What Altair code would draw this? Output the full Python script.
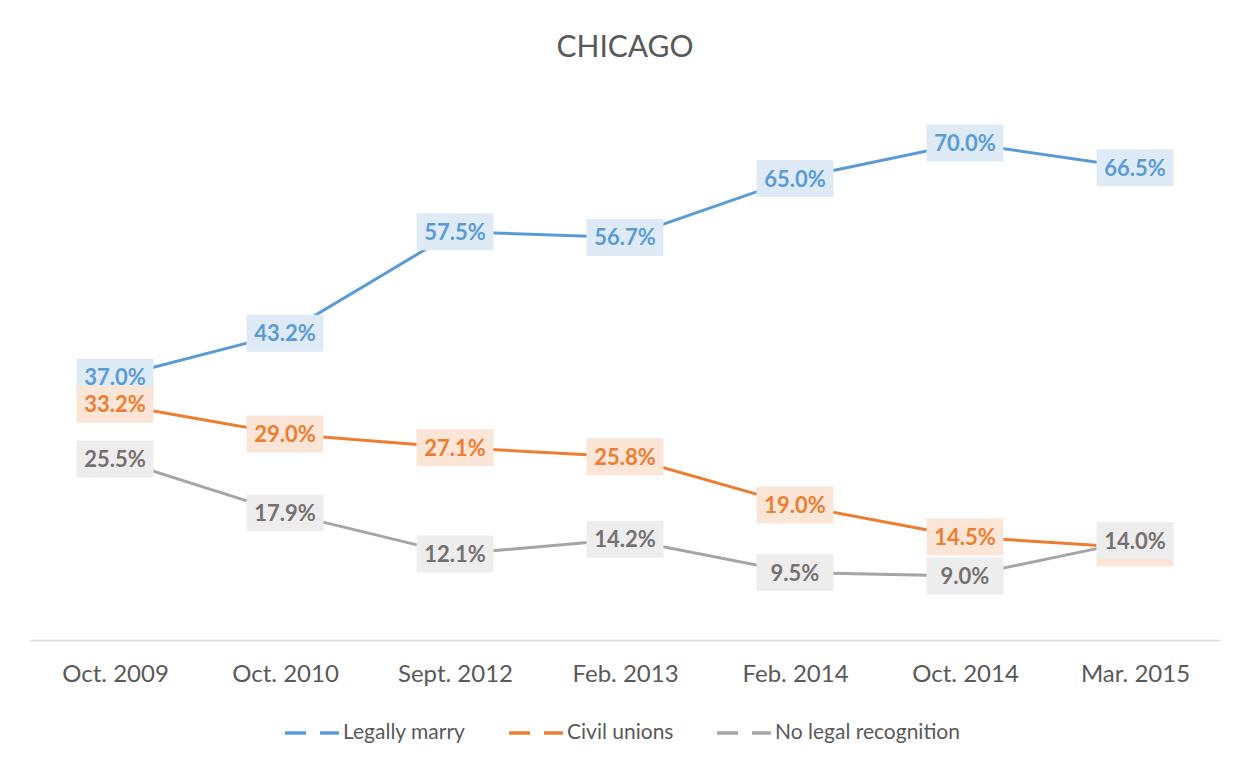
import altair as alt
import pandas as pd

periods = ["Oct. 2009", "Oct. 2010", "Sept. 2012", "Feb. 2013", "Feb. 2014", "Oct. 2014", "Mar. 2015"]
series = ["Legally marry", "Civil unions", "No legal recognition"]
legally_marry = [37.0, 43.2, 57.5, 56.7, 65.0, 70.0, 66.5]
civil_unions = [33.2, 29.0, 27.1, 25.8, 19.0, 14.5, 13.0]
no_recognition = [25.5, 17.9, 12.1, 14.2, 9.5, 9.0, 14.0]

line_colors = ["#5B9BD5", "#ED7D31", "#A5A5A5"]
box_colors = ["#DEEBF7", "#FBE5D6", "#EDEDED"]
text_colors = ["#5B9BD5", "#ED7D31", "#767171"]

rows = []
for s, vals in zip(series, [legally_marry, civil_unions, no_recognition]):
    for p, v in zip(periods, vals):
        rows.append({"period": p, "series": s, "value": v, "label": f"{v:.1f}%"})
df = pd.DataFrame(rows)

FONT = "Lato"
x_enc = alt.X("period:O", sort=periods, title=None,
              axis=alt.Axis(labelAngle=0, ticks=False, domainColor="#D9D9D9", domainWidth=1.5,
                            labelFont=FONT, labelFontSize=24, labelColor="#595959", labelPadding=22,
                            grid=False))
y_enc = alt.Y("value:Q", scale=alt.Scale(domain=[0, 80]), axis=None)

base = alt.Chart(df)

lines = base.mark_line(strokeWidth=3).encode(
    x=x_enc, y=y_enc,
    color=alt.Color("series:N", scale=alt.Scale(domain=series, range=line_colors),
                    legend=alt.Legend(title=None, orient="none", legendX=253, legendY=632,
                                      direction="horizontal", symbolType="stroke",
                                      symbolStrokeWidth=3.5, symbolDash=[21, 14], symbolSize=2900,
                                      labelFont=FONT, labelFontSize=21, labelColor="#595959",
                                      labelLimit=400, columnPadding=36, labelOffset=2, padding=0)),
)

layers = [lines]
box_shape = "M-1,-0.48H1V0.48H-1Z"
for i, s in enumerate(series):
    sub = base.transform_filter(alt.datum.series == s)
    box = sub.mark_point(shape=box_shape, size=5929, filled=True, opacity=1,
                         color=box_colors[i], strokeWidth=0).encode(x=x_enc, y=y_enc)
    txt = sub.mark_text(font=FONT, fontSize=22, fontWeight="bold", color=text_colors[i],
                        align="center", baseline="middle", dy=1).encode(
        x=x_enc, y=y_enc, text="label:N")
    layers += [box, txt]

chart = alt.layer(*layers).properties(
    width=1190, height=568,
    title=alt.TitleParams("CHICAGO", fontSize=30, font=FONT, fontWeight="normal",
                          color="#595959", anchor="middle", offset=9),
    autosize=alt.AutoSizeParams(type="none"),
    padding={"left": 22, "top": 64, "right": 20, "bottom": 120},
    background="white",
).configure_view(stroke=None)

chart.save("out.html", embed_options={"renderer": "svg", "actions": False})
